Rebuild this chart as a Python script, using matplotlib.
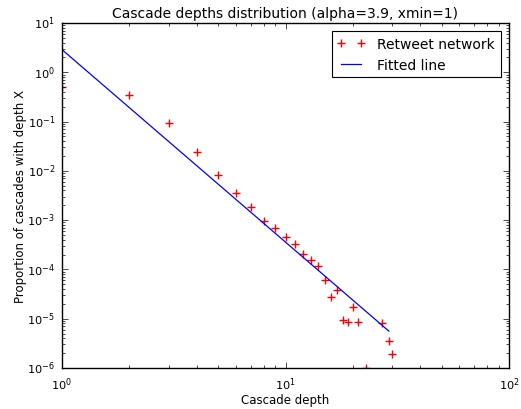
import matplotlib
matplotlib.use("Agg")
import matplotlib.pyplot as plt

plt.style.use("classic")

# Data
depth = [1, 2, 3, 4, 5, 6, 7, 8, 9, 10, 11, 12, 13, 14, 15, 16, 17, 18, 19, 20, 21, 23, 27, 29, 30]
proportion = [0.51, 0.347, 0.094, 0.0238, 0.00814, 0.00361, 0.00183, 0.000977, 0.000684,
              0.000456, 0.000324, 0.000206, 0.000153, 0.000118, 6.12e-5, 2.81e-5, 3.84e-5,
              9.3e-6, 8.5e-6, 1.76e-5, 8.7e-6, 1.0e-6, 8.1e-6, 3.55e-6, 1.9e-6]
fit_x = [1, 29]
fit_y = [2.88, 5.6e-6]

title = "Cascade depths distribution (alpha=3.9, xmin=1)"
xlabel = "Cascade depth"
ylabel = "Proportion of cascades with depth X"

fig = plt.figure(figsize=(5.21, 4.10), dpi=100, facecolor="white")
ax = fig.add_axes([62/521, 41/410, 447/521, 345/410])

ax.plot(depth, proportion, "r+", markersize=6, markeredgewidth=1.0, label="Retweet network")
ax.plot(fit_x, fit_y, "b-", linewidth=0.9, label="Fitted line")
ax.set_xscale("log")
ax.set_yscale("log")
ax.set_xlim(1, 100)
ax.set_ylim(1e-6, 10)
ax.set_title(title, fontsize=10, pad=4)
ax.set_xlabel(xlabel, fontsize=8.5, labelpad=1)
ax.set_ylabel(ylabel, fontsize=8.5, labelpad=0)
ax.tick_params(labelsize=8.2, pad=5)
leg = ax.legend(loc="upper right", numpoints=2, fontsize=10, frameon=True,
                borderaxespad=0.6, handletextpad=0.9)
leg.get_frame().set_linewidth(0.8)

fig.savefig("out.png", dpi=100, facecolor="white")
